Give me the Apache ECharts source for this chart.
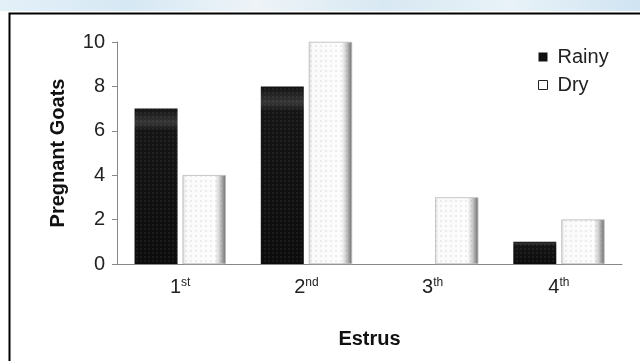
<!DOCTYPE html>
<html><head><meta charset="utf-8">
<script src="https://cdn.jsdelivr.net/npm/echarts@6/dist/echarts.min.js"></script>
<style>html,body{margin:0;padding:0;background:#fff}#c{width:640px;height:361px}</style>
</head><body><div id="c"></div>
<script>
const categories = ['1st', '2nd', '3th', '4th'];
const seriesNames = ['Rainy', 'Dry'];
const rainy = [7, 8, 0, 1];
const dry = [4, 10, 3, 2];
const yTicks = [0, 2, 4, 6, 8, 10];

const FONT = '"Liberation Sans", Arial, sans-serif';
const chart = echarts.init(document.getElementById('c'));
chart.setOption({
  animation: false,
  backgroundColor: '#fff',
  graphic: [
    { type: 'rect', shape: { x: 0, y: 0, width: 640, height: 11 }, silent: true,
      style: { fill: new echarts.graphic.LinearGradient(0, 0, 1, 0, [
        { offset: 0, color: '#e4f0f8' }, { offset: 0.2, color: '#d6e8f4' },
        { offset: 0.4, color: '#eef4f8' }, { offset: 0.6, color: '#d8e8f2' },
        { offset: 0.8, color: '#e8f2f8' }, { offset: 1, color: '#d0e4f2' }]) } },
    { type: 'rect', shape: { x: 9.5, y: 13.5, width: 700, height: 400 }, silent: true,
      style: { fill: 'none', stroke: '#000', lineWidth: 2 } }
  ],
  grid: { left: 117, right: 18, top: 42, bottom: 97 },
  legend: {
    data: [
      { name: 'Rainy', itemStyle: { color: '#111', decal: 'none' } },
      { name: 'Dry', itemStyle: { color: '#fff', borderColor: '#222', borderWidth: 1, decal: 'none' } }
    ],
    orient: 'vertical', left: 533, top: 42, itemGap: 8, icon: 'rect',
    itemWidth: 9, itemHeight: 9,
    textStyle: { fontFamily: FONT, fontSize: 20, color: '#222', padding: [0, 0, 0, 5] }
  },
  xAxis: {
    type: 'category', data: categories,
    axisLine: { lineStyle: { color: '#888', width: 1 } },
    axisTick: { show: false },
    axisLabel: {
      margin: 13,
      formatter: v => '{b|' + v.charAt(0) + '}{s|' + v.slice(1) + '}',
      rich: {
        b: { fontFamily: FONT, fontSize: 20, color: '#222', lineHeight: 20 },
        s: { fontFamily: FONT, fontSize: 12, color: '#222', verticalAlign: 'top', lineHeight: 12 }
      }
    },
    name: 'Estrus', nameLocation: 'middle', nameGap: 65,
    nameTextStyle: { fontFamily: FONT, fontSize: 20, fontWeight: 'bold', color: '#111' }
  },
  yAxis: {
    type: 'value', min: 0, max: 10, interval: 2,
    axisLine: { show: true, lineStyle: { color: '#888', width: 1 } },
    axisTick: { show: true, length: 5, lineStyle: { color: '#888' } },
    splitLine: { show: false },
    axisLabel: { margin: 12, fontFamily: FONT, fontSize: 20, color: '#222',
      formatter: v => yTicks.includes(v) ? String(v) : '' },
    name: 'Pregnant Goats', nameLocation: 'middle', nameGap: 49,
    nameTextStyle: { fontFamily: FONT, fontSize: 20, fontWeight: 'bold', color: '#111' }
  },
  series: [
    {
      name: seriesNames[0], type: 'bar', data: rainy, barWidth: 43, barGap: '12%',
      itemStyle: {
        color: new echarts.graphic.LinearGradient(0, 0, 0, 1, [
          { offset: 0, color: '#111' }, { offset: 0.05, color: '#262626' },
          { offset: 0.09, color: '#363636' }, { offset: 0.14, color: '#151515' },
          { offset: 1, color: '#0c0c0c' }]),
        borderWidth: 0,
        decal: { symbol: 'rect', symbolSize: 0.45, color: 'rgba(140,140,140,0.5)',
          dashArrayX: [[2, 2]], dashArrayY: [2, 2], rotation: 0 }
      }
    },
    {
      name: seriesNames[1], type: 'bar', data: dry, barWidth: 43,
      itemStyle: {
        color: new echarts.graphic.LinearGradient(0, 0, 1, 0, [
          { offset: 0, color: '#e0e0e0' }, { offset: 0.08, color: '#fafafa' },
          { offset: 0.75, color: '#fdfdfd' }, { offset: 0.86, color: '#d0d0d0' },
          { offset: 1, color: '#6e6e6e' }]),
        borderColor: '#bbb', borderWidth: 0.5,
        decal: { symbol: 'rect', symbolSize: 0.45, color: 'rgba(120,120,120,0.5)',
          dashArrayX: [[2, 3]], dashArrayY: [2, 3], rotation: 0 }
      }
    }
  ]
});
</script></body></html>
